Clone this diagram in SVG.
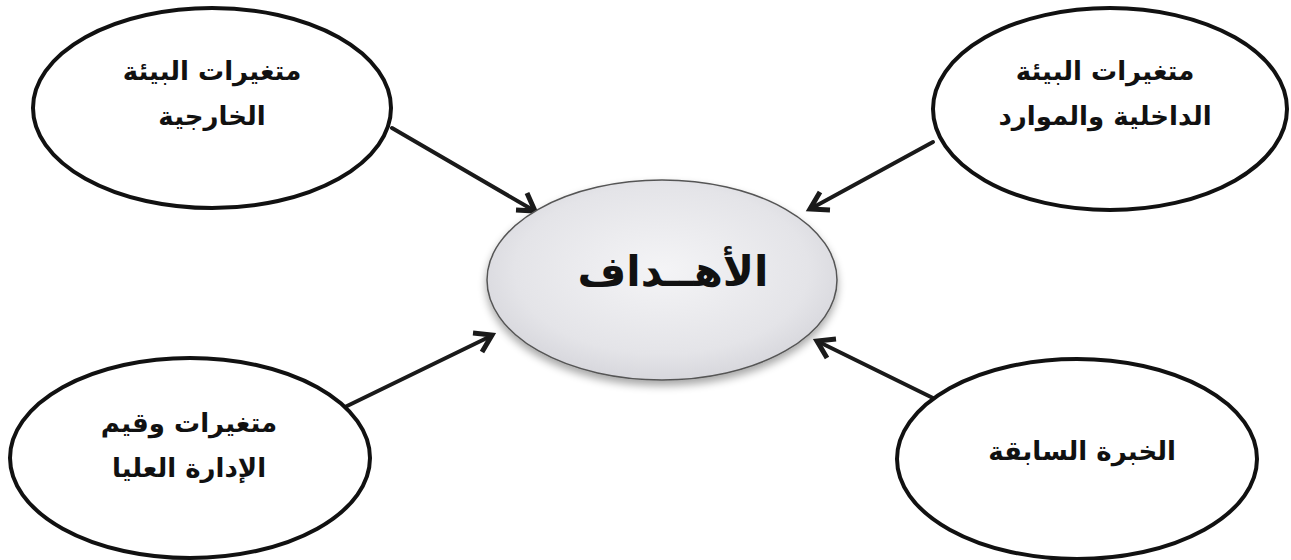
<svg xmlns="http://www.w3.org/2000/svg" width="1291" height="560" viewBox="0 0 1291 560">
  <style>
    .node { fill: #ffffff; stroke: #111111; stroke-width: 4; }
    .lbl { font-family: "DejaVu Sans", "Liberation Sans", sans-serif; font-size: 26px; font-weight: bold; fill: #111111; text-anchor: middle; direction: rtl; }
    .title { font-family: "DejaVu Sans", "Liberation Sans", sans-serif; font-size: 42px; font-weight: bold; fill: #111111; text-anchor: middle; direction: rtl; }
    .conn { stroke: #1a1a1a; stroke-width: 4; fill: none; stroke-linecap: round; }
    .head { stroke: #1a1a1a; stroke-width: 5; fill: none; stroke-linecap: butt; stroke-linejoin: miter; }
  </style>
  <defs>
    <radialGradient id="cg" cx="50%" cy="45%" r="60%">
      <stop offset="0" stop-color="#f4f4f6"/>
      <stop offset="0.7" stop-color="#e4e4e8"/>
      <stop offset="1" stop-color="#d2d2d8"/>
    </radialGradient>
    <filter id="sh" x="-20%" y="-20%" width="140%" height="150%">
      <feGaussianBlur in="SourceAlpha" stdDeviation="4"/>
      <feOffset dx="0" dy="5" result="b"/>
      <feComponentTransfer><feFuncA type="linear" slope="0.35"/></feComponentTransfer>
      <feMerge><feMergeNode/><feMergeNode in="SourceGraphic"/></feMerge>
    </filter>
  </defs>

  <g id="connectors">
    <line class="conn" x1="392" y1="128" x2="533" y2="210"/>
    <path class="head" d="M516,210 L535,211 L527,193"/>
    <line class="conn" x1="933" y1="142" x2="812" y2="208"/>
    <path class="head" d="M820,192 L810,209 L830,210"/>
    <line class="conn" x1="345" y1="407" x2="491" y2="336"/>
    <path class="head" d="M473,333 L492,335 L482,352"/>
    <line class="conn" x1="937" y1="400" x2="819" y2="342"/>
    <path class="head" d="M827,358 L817,341 L836,339"/>
  </g>

  <g id="node-goals">
    <ellipse cx="662" cy="280" rx="175" ry="100" fill="url(#cg)" stroke="#555555" stroke-width="1.5" filter="url(#sh)"/>
    <text class="title" x="673" y="286">الأهــداف</text>
  </g>

  <g id="node-external">
    <ellipse class="node" cx="212" cy="108" rx="179" ry="100"/>
    <text class="lbl" x="212" y="80">متغيرات البيئة</text>
    <text class="lbl" x="212" y="125">الخارجية</text>
  </g>

  <g id="node-internal">
    <ellipse class="node" cx="1110" cy="109" rx="177" ry="101"/>
    <text class="lbl" x="1105" y="80">متغيرات البيئة</text>
    <text class="lbl" x="1105" y="125">الداخلية والموارد</text>
  </g>

  <g id="node-management">
    <ellipse class="node" cx="190" cy="458" rx="180" ry="100"/>
    <text class="lbl" x="189" y="432">متغيرات وقيم</text>
    <text class="lbl" x="189" y="477">الإدارة العليا</text>
  </g>

  <g id="node-experience">
    <ellipse class="node" cx="1077" cy="459" rx="180" ry="100"/>
    <text class="lbl" x="1082" y="460">الخبرة السابقة</text>
  </g>
</svg>
